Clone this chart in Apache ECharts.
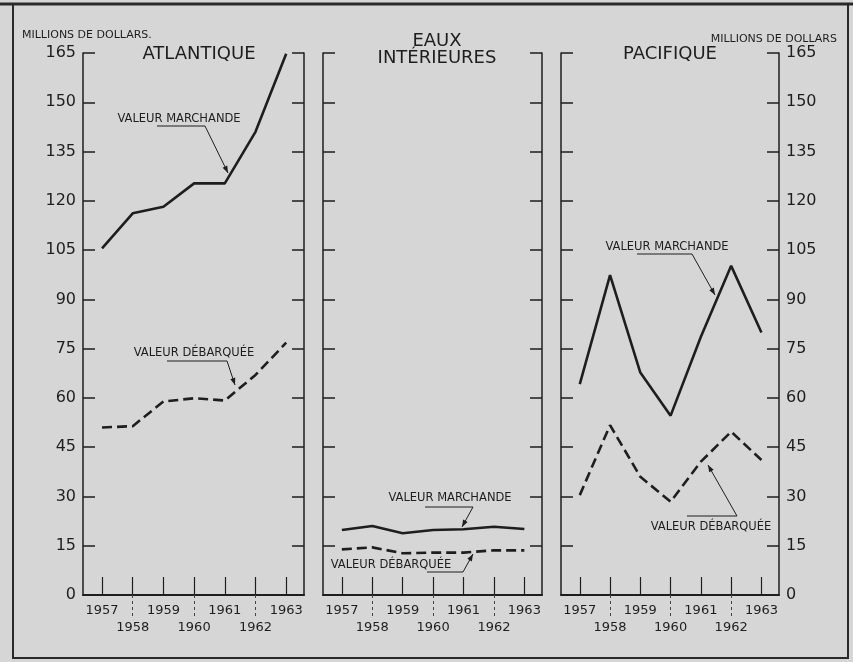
<!DOCTYPE html>
<html><head><meta charset="utf-8">
<script src="https://cdn.jsdelivr.net/npm/echarts@6/dist/echarts.min.js"></script>
<style>html,body{margin:0;padding:0;background:#d6d6d6}#c{width:853px;height:662px}</style>
</head><body><div id="c"></div><script>
// ---- data ----
const years = [1957, 1958, 1959, 1960, 1961, 1962, 1963];
const oddYears = [1957, 1959, 1961, 1963];
const evenYears = [1958, 1960, 1962];
const yTickStep = 15;
const yMax = 165;
const atlMarchande = [105.5, 116.2, 118.2, 125.3, 125.3, 141.0, 164.8];
const atlDebarquee = [51.0, 51.4, 58.9, 59.9, 59.2, 67.0, 76.8];
const intMarchande = [19.8, 21.0, 18.8, 19.8, 20.0, 20.8, 20.1];
const intDebarquee = [13.9, 14.5, 12.7, 12.9, 12.9, 13.6, 13.6];
const pacMarchande = [64.2, 97.4, 67.7, 54.6, 78.6, 100.2, 79.9];
const pacDebarquee = [30.4, 51.7, 36.0, 28.4, 40.6, 49.7, 41.1];
const panelTitles = ['ATLANTIQUE', 'EAUX\nINTÉRIEURES', 'PACIFIQUE'];
const unitLabel = 'MILLIONS DE DOLLARS';
const lblMarchande = 'VALEUR MARCHANDE';
const lblDebarquee = 'VALEUR DÉBARQUÉE';

// ---- layout / style ----
const INK = '#1e1e1e';
const FONT = '"DejaVu Sans", sans-serif';
const grids = [
  {left: 83, top: 53, width: 221, height: 542},
  {left: 323, top: 53, width: 219, height: 542},
  {left: 561, top: 53, width: 218, height: 542}
];
const X_MIN = 1956.38, X_MAX = 1963.58;
const yearFmt = v => String(Math.round(v));

const xAxes = [], yAxes = [], series = [];
grids.forEach((g, i) => {
  xAxes.push({
    gridIndex: i, type: 'value', min: X_MIN, max: X_MAX, position: 'bottom',
    axisLine: {show: true, onZero: false, lineStyle: {color: INK, width: 2}},
    axisTick: {show: true, inside: true, length: 18, customValues: years, lineStyle: {color: INK, width: 1.2}},
    axisLabel: {show: true, customValues: oddYears, showMinLabel: true, showMaxLabel: true, hideOverlap: false,
      color: INK, fontFamily: FONT, fontSize: 13, margin: 9, formatter: yearFmt},
    splitLine: {show: false}
  });
  xAxes.push({
    gridIndex: i, type: 'value', min: X_MIN, max: X_MAX, position: 'bottom',
    axisLine: {show: false, onZero: false},
    axisTick: {show: true, inside: false, length: 21, customValues: evenYears, lineStyle: {color: '#444', width: 1, type: [3, 3]}},
    axisLabel: {show: true, customValues: evenYears, showMinLabel: true, showMaxLabel: true, hideOverlap: false,
      color: INK, fontFamily: FONT, fontSize: 13, margin: 26, formatter: yearFmt},
    splitLine: {show: false}
  });
  ['left', 'right'].forEach(pos => {
    const showLbl = (i === 0 && pos === 'left') || (i === 2 && pos === 'right');
    yAxes.push({
      gridIndex: i, type: 'value', min: 0, max: yMax, interval: yTickStep, position: pos,
      axisLine: {show: true, onZero: false, lineStyle: {color: INK, width: 1.5}},
      axisTick: {show: true, inside: true, length: 12, lineStyle: {color: INK, width: 1.5}},
      axisLabel: {show: showLbl, color: INK, fontFamily: FONT, fontSize: 16, margin: 7, showMinLabel: true, showMaxLabel: true},
      splitLine: {show: false}
    });
  });
});

const panelData = [[atlMarchande, atlDebarquee], [intMarchande, intDebarquee], [pacMarchande, pacDebarquee]];
panelData.forEach((pair, i) => {
  pair.forEach((arr, k) => {
    series.push({
      type: 'line', xAxisIndex: i * 2, yAxisIndex: i * 2, symbol: 'none', silent: true,
      data: years.map((y, j) => [y, arr[j]]),
      lineStyle: {color: INK, width: 2.6, type: k === 0 ? 'solid' : [10, 5]}
    });
  });
});

// ---- annotations (text + leader with arrow) ----
function arrowHead(p1, p2) {
  const dx = p2[0] - p1[0], dy = p2[1] - p1[1];
  const L = Math.hypot(dx, dy), ux = dx / L, uy = dy / L;
  const len = 7, hw = 2.6;
  const bx = p2[0] - ux * len, by = p2[1] - uy * len;
  return {type: 'polygon', shape: {points: [p2, [bx - uy * hw, by + ux * hw], [bx + uy * hw, by - ux * hw]]},
    style: {fill: INK}, silent: true};
}
const annotations = [
  {text: lblMarchande, c: [179, 119], pts: [[157, 126], [205, 126], [228, 173]]},
  {text: lblDebarquee, c: [194, 353], pts: [[167, 361], [227, 361], [235, 385]]},
  {text: lblMarchande, c: [450, 498], pts: [[425, 507], [473, 507], [462, 527]]},
  {text: lblDebarquee, c: [391, 565], pts: [[427, 572], [463, 572], [473, 554]]},
  {text: lblMarchande, c: [667, 247], pts: [[637, 254], [692, 254], [715, 295]]},
  {text: lblDebarquee, c: [711, 527], pts: [[687, 516], [737, 516], [708, 465]]}
];
const graphics = [
  {type: 'rect', shape: {x: 13, y: 4, width: 835, height: 654}, style: {fill: 'none', stroke: '#2a2a2a', lineWidth: 2}, silent: true},
  {type: 'line', shape: {x1: 0, y1: 4, x2: 853, y2: 4}, style: {stroke: '#2a2a2a', lineWidth: 3}, silent: true},
  {type: 'text', x: 22, y: 35, style: {text: unitLabel + '.', fill: INK, font: '11px ' + FONT, align: 'left', verticalAlign: 'middle'}},
  {type: 'text', x: 837, y: 39, style: {text: unitLabel, fill: INK, font: '11px ' + FONT, align: 'right', verticalAlign: 'middle'}},
  {type: 'text', x: 199, y: 54, style: {text: panelTitles[0], fill: INK, font: '18px ' + FONT, align: 'center', verticalAlign: 'middle'}},
  {type: 'text', x: 437, y: 50, style: {text: panelTitles[1], fill: INK, font: '18px ' + FONT, lineHeight: 17, align: 'center', verticalAlign: 'middle'}},
  {type: 'text', x: 670, y: 54, style: {text: panelTitles[2], fill: INK, font: '18px ' + FONT, align: 'center', verticalAlign: 'middle'}}
];
annotations.forEach(a => {
  graphics.push({type: 'text', x: a.c[0], y: a.c[1], style: {text: a.text, fill: INK, font: '11.5px ' + FONT, align: 'center', verticalAlign: 'middle'}});
  graphics.push({type: 'polyline', shape: {points: a.pts}, style: {stroke: INK, lineWidth: 1, fill: 'none'}, silent: true});
  graphics.push(arrowHead(a.pts[a.pts.length - 2], a.pts[a.pts.length - 1]));
});

const chart = echarts.init(document.getElementById('c'), null, {renderer: 'canvas'});
chart.setOption({
  animation: false,
  backgroundColor: '#d6d6d6',
  textStyle: {fontFamily: FONT},
  grid: grids,
  xAxis: xAxes,
  yAxis: yAxes,
  series: series,
  graphic: graphics
});
</script></body></html>
